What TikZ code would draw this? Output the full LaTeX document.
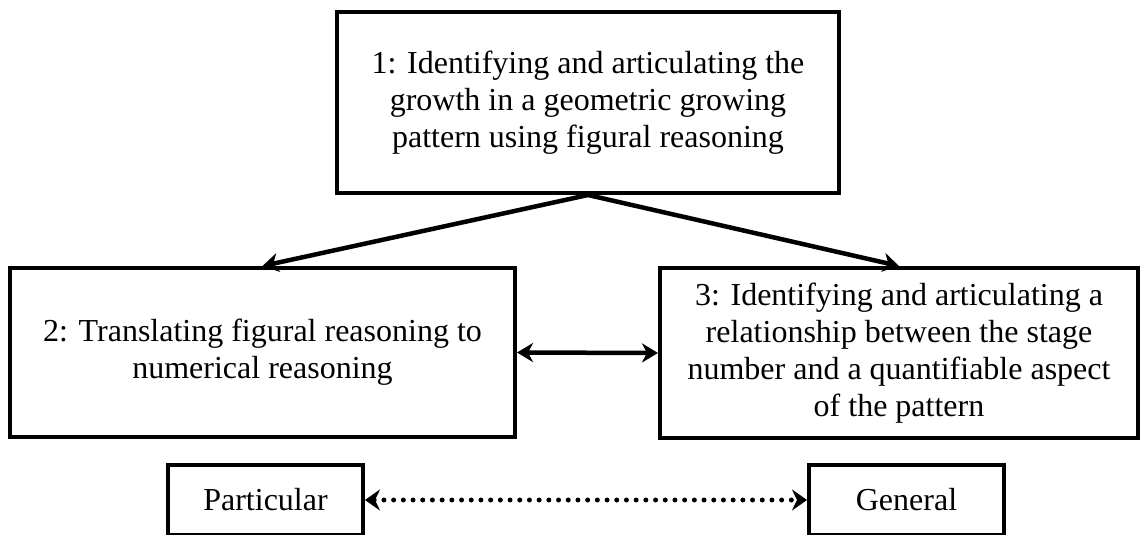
\documentclass[tikz,border=0pt]{standalone}
\usepackage{fontspec}
\setmainfont{Liberation Serif}
\usetikzlibrary{arrows.meta}

\begin{document}
\begin{tikzpicture}[x=1pt, y=-1pt,
  every node/.style={font=\fontsize{32}{37}\selectfont},
  stage/.style={rectangle, draw=black, line width=4pt, fill=white,
                align=center, inner sep=0pt},
  pole/.style={rectangle, draw=black, line width=4pt, fill=white,
               minimum width=195pt, minimum height=70pt, inner sep=0pt},
  arr/.style={-{Stealth[length=16pt, width=19pt, inset=5pt]}, line width=4.5pt},
  darr/.style={{Stealth[length=16pt, width=19pt, inset=5pt]}-{Stealth[length=16pt, width=19pt, inset=5pt]},
               line width=4.5pt},
  dotarr/.style={{Stealth[length=15pt, width=21pt, inset=5pt]}-{Stealth[length=15pt, width=21pt, inset=5pt]},
                 line width=5pt, line cap=round, dash pattern=on 0pt off 9.7pt}
]
  \useasboundingbox (0,0) rectangle (1148,535);

  % ── Stage boxes ──────────────────────────────────────────────
  \node[stage, minimum width=502pt, minimum height=181pt] (b1) at (588,102.5)
        {1: Identifying and articulating the\\growth in a geometric growing\\pattern using figural reasoning};
  \node[stage, minimum width=505pt, minimum height=169pt] (b2) at (262.5,352.5)
        {2: Translating figural reasoning to\\numerical reasoning};
  \node[stage, minimum width=478pt, minimum height=170pt] (b3) at (899,353)
        {3: Identifying and articulating a\\relationship between the stage\\number and a quantifiable aspect\\of the pattern};

  % ── Particular / general ─────────────────────────────────────
  \node[pole] (part) at (265.5,500) {Particular};
  \node[pole] (gen)  at (906.5,500) {General};

  % ── Arrows ───────────────────────────────────────────────────
  \draw[arr] (b1.south) -- (b2.north);
  \draw[arr] (b1.south) -- (b3.north);
  \draw[darr] (b2.east) -- (b3.west);
  \draw[dotarr] (part.east) -- (gen.west);

\end{tikzpicture}
\end{document}
